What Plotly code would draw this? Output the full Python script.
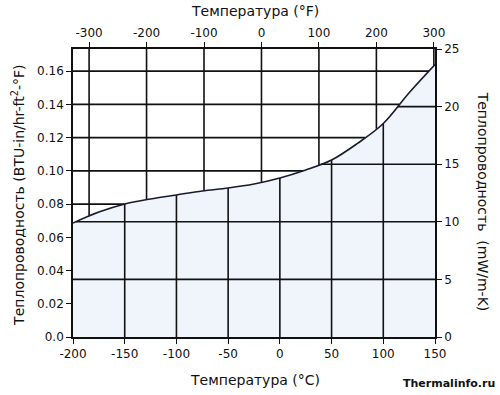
import numpy as np
import plotly.graph_objects as go

# Data: thermal conductivity vs temperature (°C), BTU-in/hr-ft²-°F
temp_c = [-200, -175, -150, -125, -100, -75, -50, -25, 0, 25, 50, 75, 100, 125, 150]
k_btu = [0.0686, 0.0752, 0.0801, 0.0831, 0.0855, 0.0879, 0.0897, 0.0921, 0.0957,
         0.1005, 0.1065, 0.1165, 0.1285, 0.1470, 0.1640]

c_ticks = [-200, -150, -100, -50, 0, 50, 100, 150]
c_labels = ["-200", "-150", "-100", "-50", "0", "50", "100", "150"]
f_ticks = [-300, -200, -100, 0, 100, 200, 300]
f_labels = ["-300", "-200", "-100", "0", "100", "200", "300"]
left_ticks = [0.0, 0.02, 0.04, 0.06, 0.08, 0.10, 0.12, 0.14, 0.16]
left_labels = ["0.0", "0.02", "0.04", "0.06", "0.08", "0.10", "0.12", "0.14", "0.16"]
right_ticks = [0, 5, 10, 15, 20, 25]

CONV = 0.0069335  # 1 mW/m-K in BTU-in/hr-ft²-°F
XMIN, XMAX = -200, 150
YMAX = 25 * CONV

tc = np.array(temp_c, float)
kb = np.array(k_btu, float)

def curve(x):
    return float(np.interp(x, tc, kb))

def cross(v):
    return float(np.interp(v, kb, tc))

# lower-region grid (°C verticals, mW/m-K horizontals)
lx, ly = [], []
for c in c_ticks[1:-1]:
    lx += [c, c, None]; ly += [0, curve(c), None]
for w in right_ticks[1:-1]:
    v = w * CONV
    if v < kb[-1]:
        x0 = XMIN if v <= kb[0] else cross(v)
        lx += [x0, XMAX, None]; ly += [v, v, None]

# upper-region grid (°F verticals, BTU horizontals)
ux, uy = [], []
for f in f_ticks:
    xc = (f - 32) * 5 / 9
    ux += [xc, xc, None]; uy += [curve(xc), YMAX, None]
for v in left_ticks[1:]:
    if v > kb[0]:
        x1 = XMAX if v >= kb[-1] else cross(v)
        ux += [XMIN, x1, None]; uy += [v, v, None]

fig = go.Figure()
fig.add_trace(go.Scatter(x=temp_c, y=k_btu, mode="lines", fill="tozeroy",
                         fillcolor="#f0f4fb", line=dict(width=0, shape="spline"),
                         hoverinfo="skip", showlegend=False))
fig.add_trace(go.Scatter(x=lx, y=ly, mode="lines", line=dict(color="#111", width=1.6),
                         hoverinfo="skip", showlegend=False))
fig.add_trace(go.Scatter(x=ux, y=uy, mode="lines", line=dict(color="#111", width=1.6),
                         hoverinfo="skip", showlegend=False))
fig.add_trace(go.Scatter(x=temp_c, y=k_btu, mode="lines",
                         line=dict(color="#1a1a2e", width=1.6, shape="spline"),
                         showlegend=False))
# dummy traces to activate secondary axes
fig.add_trace(go.Scatter(x=[-328, 302], y=[None, None], xaxis="x2", yaxis="y",
                         mode="lines", showlegend=False, hoverinfo="skip"))
fig.add_trace(go.Scatter(x=[-200, 150], y=[None, None], xaxis="x", yaxis="y2",
                         mode="lines", showlegend=False, hoverinfo="skip"))

font = dict(family="DejaVu Sans", size=12, color="#111")
axis_common = dict(showgrid=False, zeroline=False, showline=True, linecolor="#111",
                   linewidth=1.6, ticks="outside", ticklen=5, tickwidth=1.4,
                   tickcolor="#111", tickfont=font)
tfont = dict(family="DejaVu Sans", size=14, color="#111")

fig.update_layout(
    width=500, height=395,
    margin=dict(l=73, r=65, t=49, b=58),
    paper_bgcolor="white", plot_bgcolor="white",
    xaxis=dict(range=[XMIN, XMAX], tickvals=c_ticks, ticktext=c_labels, **axis_common),
    xaxis2=dict(range=[(XMIN * 9 / 5 + 32), (XMAX * 9 / 5 + 32)], tickvals=f_ticks,
                ticktext=f_labels, overlaying="x", side="top", **axis_common),
    yaxis=dict(range=[0, YMAX], tickvals=left_ticks, ticktext=left_labels, **axis_common),
    yaxis2=dict(range=[0, 25], tickvals=right_ticks, overlaying="y", side="right",
                **axis_common),
    annotations=[
        dict(text="Температура (°F)", x=0.503, y=1, xref="paper", yref="paper",
             yshift=38, showarrow=False, font=tfont, yanchor="middle"),
        dict(text="Температура (°C)", x=0.503, y=0, xref="paper", yref="paper",
             yshift=-43, showarrow=False, font=tfont, yanchor="middle"),
        dict(text="Теплопроводность (BTU-in/hr-ft<sup>2</sup>-°F)", x=0, y=0.49,
             xref="paper", yref="paper", xshift=-55, textangle=-90, showarrow=False,
             font=tfont, xanchor="center"),
        dict(text="Теплопроводность  (mW/m-K)", x=1, y=0.47, xref="paper", yref="paper",
             xshift=48, textangle=90, showarrow=False, font=tfont, xanchor="center"),
        dict(text="<b>Thermalinfo.ru</b>", x=1, y=0, xref="paper", yref="paper",
             xshift=62, yshift=-46, xanchor="right", yanchor="middle", showarrow=False,
             font=dict(family="DejaVu Sans", size=11, color="#111")),
    ],
)

fig.write_html("out.html", config={"displayModeBar": False},
               post_script="document.body.style.margin='0';document.body.style.overflow='hidden';")
